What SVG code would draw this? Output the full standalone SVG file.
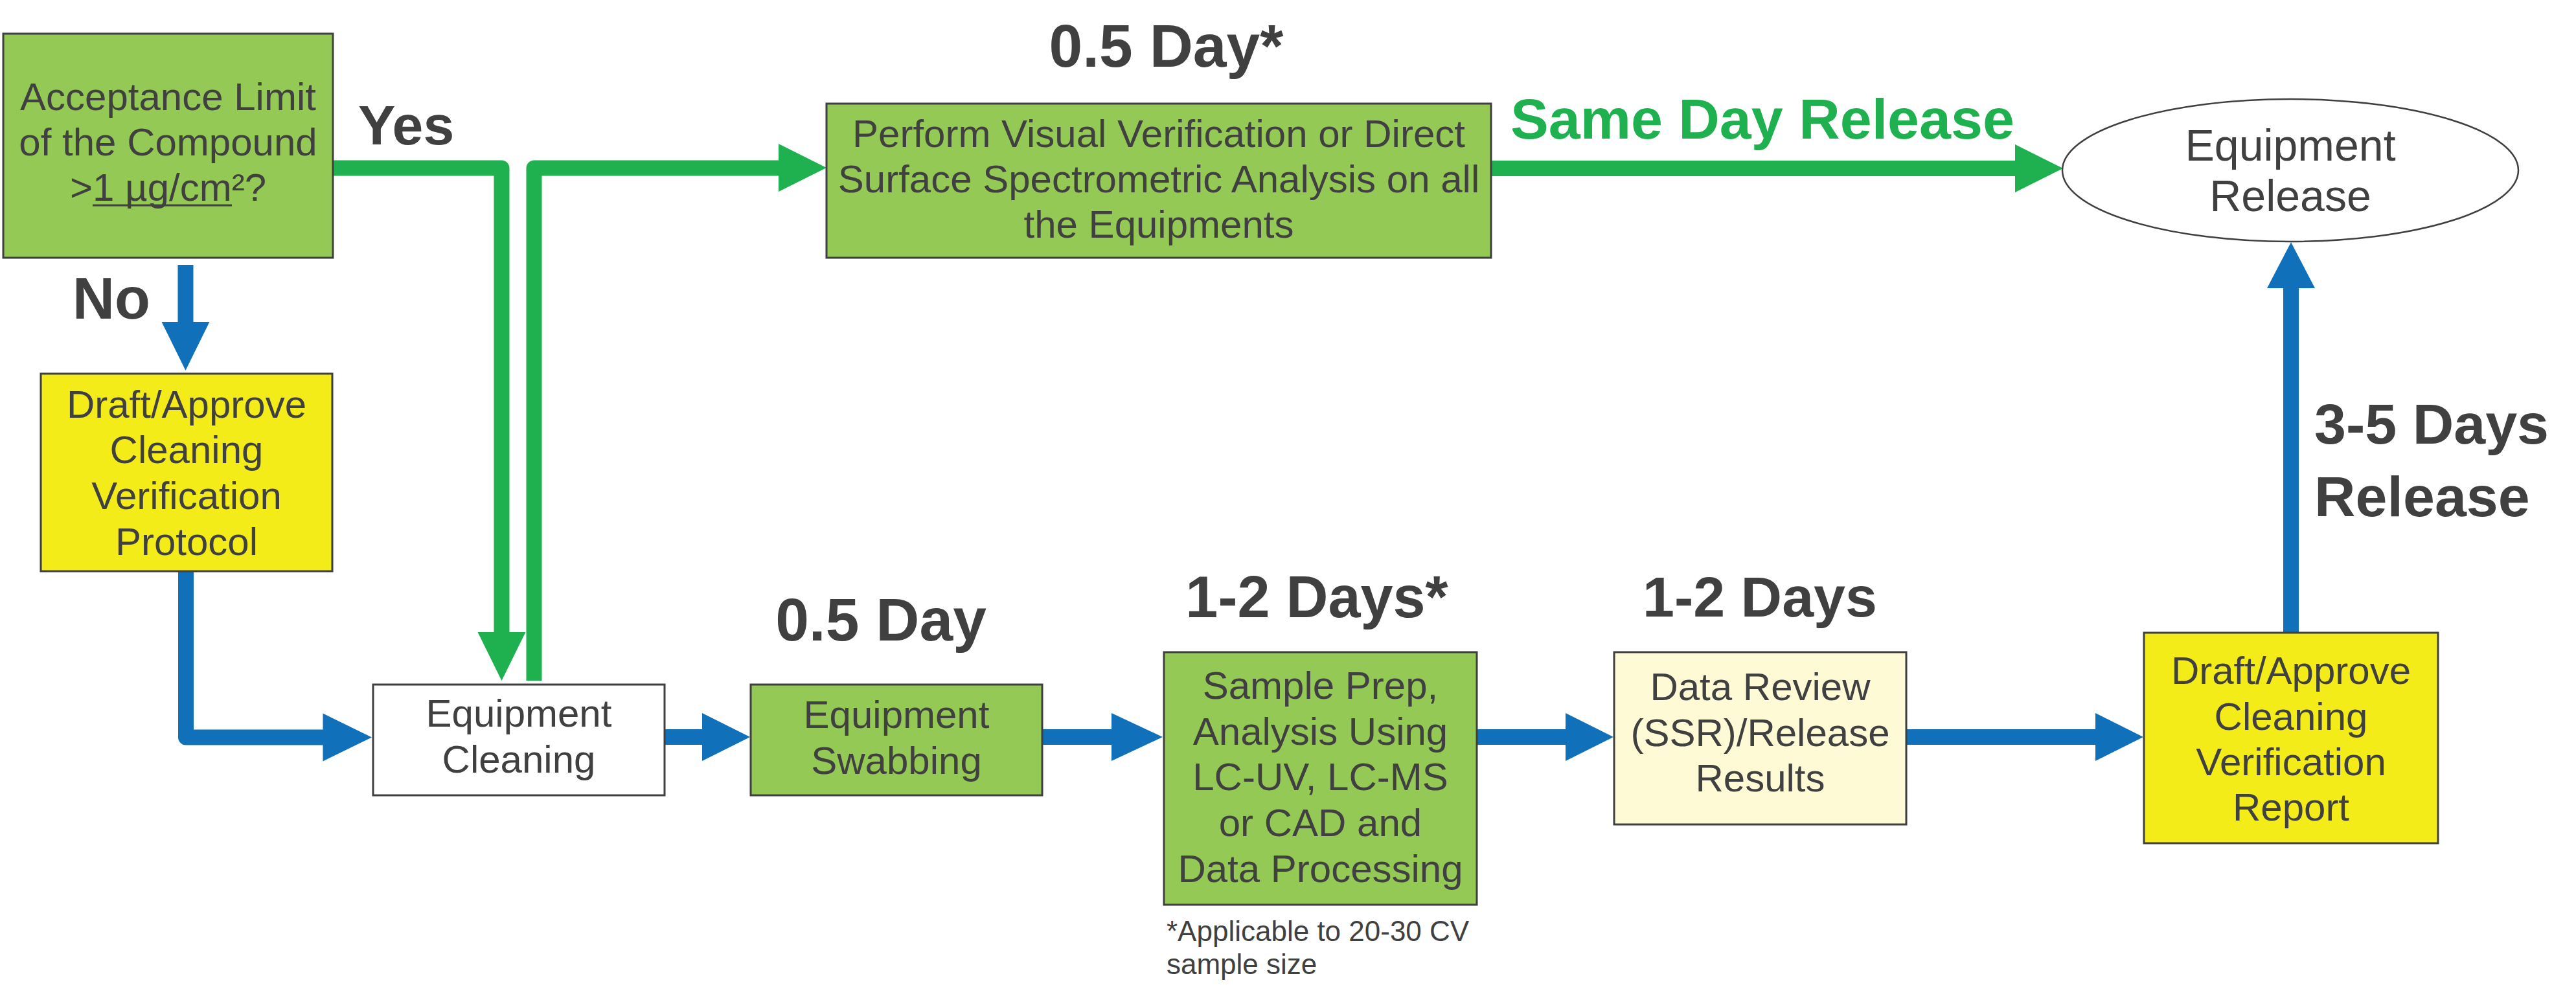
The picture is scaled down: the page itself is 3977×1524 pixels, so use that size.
<svg xmlns="http://www.w3.org/2000/svg" width="3977" height="1524" viewBox="0 0 3977 1524">
<style>
.box{stroke:#3f3f3f;stroke-width:3}
.g{fill:#93C954}
.y{fill:#F4EC19}
.w{fill:#ffffff}
.c{fill:#FEFAD5}
.t{font-family:"Liberation Sans",Arial,sans-serif;font-size:60px;fill:#404040;text-anchor:middle}
.b{font-family:"Liberation Sans",Arial,sans-serif;font-weight:bold;fill:#404040}
.gl{fill:none;stroke:#1FB04F;stroke-width:24;stroke-linejoin:round}
.bl{fill:none;stroke:#1071BA;stroke-width:24;stroke-linejoin:round}
.gh{fill:#1FB04F}
.bh{fill:#1071BA}
</style>
<rect width="3977" height="1524" fill="#ffffff"/>
<g id="connectors">
<path class="gl" d="M514 259.5 H774.5 V978"/>
<polygon class="gh" points="737.5,976 811.5,976 774.5,1051"/>
<path class="gl" d="M824.5 1051 V259.5 H1204"/>
<polygon class="gh" points="1202,222 1202,296 1276,259"/>
<path class="gl" d="M2302 260 H3113"/>
<polygon class="gh" points="3111,223 3111,297 3185,260"/>
<path class="bl" d="M286.5 409 V499"/>
<polygon class="bh" points="249.5,497 323.5,497 286.5,572"/>
<path class="bl" d="M287 882 V1138.5 H500"/>
<polygon class="bh" points="498.5,1101.5 498.5,1175.5 574,1138.5"/>
<path class="bl" d="M1026 1138 H1086"/>
<polygon class="bh" points="1084,1101 1084,1175 1158,1138"/>
<path class="bl" d="M1609 1138 H1718"/>
<polygon class="bh" points="1716,1101 1716,1175 1795,1138"/>
<path class="bl" d="M2280 1138 H2419"/>
<polygon class="bh" points="2417,1101 2417,1175 2491,1138"/>
<path class="bl" d="M2943 1138 H3237"/>
<polygon class="bh" points="3235,1101 3235,1175 3309,1138"/>
<path class="bl" d="M3537 977 V443"/>
<polygon class="bh" points="3500,445 3574,445 3537,374"/>
</g>
<g id="acceptance">
<rect class="box g" x="5" y="52" width="509" height="346"/>
<text class="t" x="259.5" y="170">Acceptance Limit</text>
<text class="t" x="259.5" y="240">of the Compound</text>
<text class="t" x="259.5" y="310">&gt;1 µg/cm²?</text>
<line x1="143" y1="317" x2="358" y2="317" stroke="#404040" stroke-width="3"/>
</g>
<g id="protocol">
<rect class="box y" x="63" y="577" width="450" height="305"/>
<text class="t" x="288" y="645">Draft/Approve</text>
<text class="t" x="288" y="715">Cleaning</text>
<text class="t" x="288" y="786">Verification</text>
<text class="t" x="288" y="857">Protocol</text>
</g>
<g id="cleaning">
<rect class="box w" x="576" y="1057" width="450" height="171"/>
<text class="t" x="801" y="1122">Equipment</text>
<text class="t" x="801" y="1193">Cleaning</text>
</g>
<g id="perform">
<rect class="box g" x="1276" y="160" width="1026" height="238"/>
<text class="t" x="1789" y="227">Perform Visual Verification or Direct</text>
<text class="t" x="1789" y="297">Surface Spectrometric Analysis on all</text>
<text class="t" x="1789" y="367">the Equipments</text>
</g>
<g id="swabbing">
<rect class="box g" x="1159" y="1057" width="450" height="171"/>
<text class="t" x="1384" y="1124">Equipment</text>
<text class="t" x="1384" y="1195">Swabbing</text>
</g>
<g id="sampleprep">
<rect class="box g" x="1797" y="1007" width="483" height="390"/>
<text class="t" x="2038.5" y="1079">Sample Prep,</text>
<text class="t" x="2038.5" y="1150">Analysis Using</text>
<text class="t" x="2038.5" y="1220">LC-UV, LC-MS</text>
<text class="t" x="2038.5" y="1291">or CAD and</text>
<text class="t" x="2038.5" y="1362">Data Processing</text>
</g>
<g id="datareview">
<rect class="box c" x="2492" y="1007" width="451" height="266"/>
<text class="t" x="2717.5" y="1081">Data Review</text>
<text class="t" x="2717.5" y="1152">(SSR)/Release</text>
<text class="t" x="2717.5" y="1222">Results</text>
</g>
<g id="report">
<rect class="box y" x="3310" y="977" width="454" height="325"/>
<text class="t" x="3537" y="1056">Draft/Approve</text>
<text class="t" x="3537" y="1127">Cleaning</text>
<text class="t" x="3537" y="1197">Verification</text>
<text class="t" x="3537" y="1267">Report</text>
</g>
<g id="release">
<ellipse cx="3536" cy="263" rx="352" ry="110" fill="#ffffff" stroke="#3f3f3f" stroke-width="2.5"/>
<text class="t" x="3536" y="248" style="font-size:68px">Equipment</text>
<text class="t" x="3536" y="326" style="font-size:68px">Release</text>
</g>
<g id="labels">
<text class="b" x="553" y="223" font-size="86">Yes</text>
<text class="b" x="112" y="492" font-size="90">No</text>
<text class="b" x="1800.5" y="103" font-size="93" text-anchor="middle">0.5 Day*</text>
<text class="b" x="2332" y="214" font-size="88" style="fill:#1FB04F">Same Day Release</text>
<text class="b" x="1360" y="989" font-size="93" text-anchor="middle">0.5 Day</text>
<text class="b" x="2033" y="953" font-size="90" text-anchor="middle">1-2 Days*</text>
<text class="b" x="2717" y="952" font-size="88" text-anchor="middle">1-2 Days</text>
<text class="b" x="3573" y="685" font-size="88">3-5 Days</text>
<text class="b" x="3573" y="797" font-size="88">Release</text>
<text style="font-family:'Liberation Sans',Arial,sans-serif;font-size:44px;fill:#404040" x="1801" y="1453">*Applicable to 20-30 CV</text>
<text style="font-family:'Liberation Sans',Arial,sans-serif;font-size:44px;fill:#404040" x="1801" y="1504">sample size</text>
</g>
</svg>
